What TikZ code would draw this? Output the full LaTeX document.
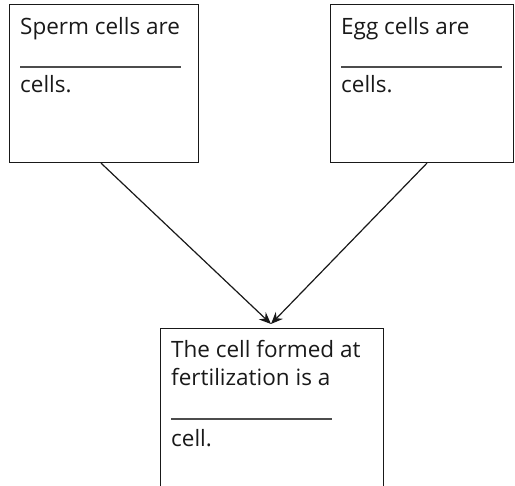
\documentclass[tikz,border=0pt]{standalone}
\usepackage{fontspec}
\setmainfont{Open Sans}
\usetikzlibrary{arrows.meta}
\begin{document}
\begin{tikzpicture}[x=1pt,y=-1pt,
  box/.style={draw=black!90,line width=1.1pt},
  txt/.style={anchor=base west,inner sep=0pt,font=\fontsize{22.5}{27}\selectfont,text=black!90},
  blank/.style={draw=black!70,line width=1.1pt},
  conn/.style={draw=black!90,line width=1.2pt,-{Stealth[length=12pt,width=10pt,inset=4pt]}}]
\useasboundingbox (0,0) rectangle (515,486);
\begin{scope}
\clip (0,0) rectangle (515,486);
\node[box,anchor=north west,minimum width=189pt,minimum height=158pt,inner sep=0pt] (sperm) at (9,4) {};
\node[box,anchor=north west,minimum width=183pt,minimum height=158pt,inner sep=0pt] (egg) at (330,4) {};
\node[box,anchor=north west,minimum width=223pt,minimum height=175pt,inner sep=0pt] (zyg) at (160,328) {};
\end{scope}
\node[txt] (s1) at (20,35) {Sperm cells are};
\coordinate (sl1) at (20,67);
\coordinate (sl2) at (181,67);
\draw[blank] (sl1) -- (sl2);
\node[txt] (s2) at (20,93) {cells.};
\node[txt] (e1) at (341,35) {Egg cells are};
\coordinate (el1) at (341,67);
\coordinate (el2) at (502,67);
\draw[blank] (el1) -- (el2);
\node[txt] (e2) at (341,93) {cells.};
\node[txt] (z1) at (171,358) {The cell formed at};
\node[txt] (z2) at (171,386) {fertilization is a};
\coordinate (zl1) at (171,419);
\coordinate (zl2) at (332,419);
\draw[blank] (zl1) -- (zl2);
\node[txt] (z3) at (171,447) {cell.};
\coordinate (tip) at (271,324);
\draw[conn] (sperm.south west) ++(92,0) coordinate (sa) -- (tip);
\draw[conn] (egg.south west) ++(97,0) coordinate (ea) -- (tip);
\end{tikzpicture}
\end{document}
